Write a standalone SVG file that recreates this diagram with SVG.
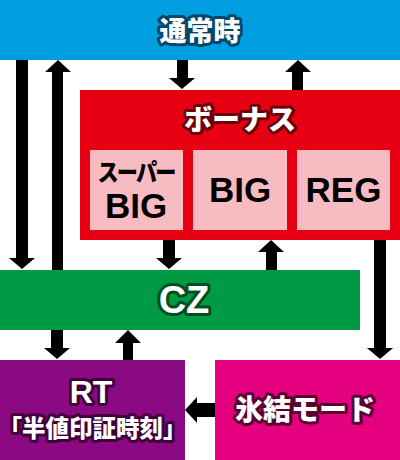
<svg xmlns="http://www.w3.org/2000/svg" width="400" height="460" viewBox="0 0 400 460">
<style>
.h{font-family:"Noto Sans CJK JP","Noto Sans",sans-serif;font-weight:900;fill:#fff;stroke-width:6;stroke-linejoin:round;paint-order:stroke;text-anchor:middle}
.l{font-family:"Liberation Sans","Noto Sans CJK JP",sans-serif;font-weight:bold;fill:#000;text-anchor:middle}
.j{font-family:"Noto Sans CJK JP",sans-serif;font-weight:900;fill:#000;text-anchor:middle}
.sub{fill:#f8bbc2}
.arr{fill:#000}
</style>
<g id="tsujo">
<rect x="0" y="0" width="400" height="60" fill="#009de0"/>
<text class="h" x="200" y="41" font-size="27" stroke="#00476b">通常時</text>
</g>
<g id="bonus">
<rect x="80" y="90" width="320" height="150" fill="#e60012"/>
<text class="h" x="240" y="130" font-size="28" stroke="#6b0008">ボーナス</text>
</g>
<g id="superbig">
<rect class="sub" x="90" y="150" width="93" height="80"/>
<text class="j" x="136" y="181" font-size="24" letter-spacing="-2" transform="translate(136 0) scale(0.88 1) translate(-136 0)">スーパー</text>
<text class="l" x="136" y="218" font-size="35">BIG</text>
</g>
<g id="big">
<rect class="sub" x="193" y="150" width="94" height="80"/>
<text class="l" x="240" y="202" font-size="35">BIG</text>
</g>
<g id="reg">
<rect class="sub" x="297" y="150" width="93" height="80"/>
<text class="l" x="343.5" y="202" font-size="35">REG</text>
</g>
<g id="cz">
<rect x="0" y="270" width="360" height="60" fill="#009944"/>
<text class="h" x="184" y="313" font-size="38" stroke="#004d22" style="font-family:'Liberation Sans',sans-serif;font-weight:bold">CZ</text>
</g>
<g id="rt">
<rect x="0" y="360" width="185" height="100" fill="#8b0a84"/>
<text class="h" x="91" y="403" font-size="32" stroke="#40003a" style="font-family:'Liberation Sans',sans-serif;font-weight:bold">RT</text>
<text class="h" x="92.5" y="437" font-size="23.5" stroke="#40003a" stroke-width="5">「半値印証時刻」</text>
</g>
<g id="hyoketsu">
<rect x="215" y="360" width="185" height="100" fill="#e4007f"/>
<text class="h" x="305" y="420" font-size="28" stroke="#5a0032">氷結モード</text>
</g>
<g id="connectors" class="arr">
<path d="M16 60H28V258H35L22 269L9 258H16Z"/>
<path d="M52 270H63V72H71L58 60L45 72H52Z"/>
<path d="M177 60H188V78H195L182 89L169 78H177Z"/>
<path d="M292 90H303V72H311L298 60L285 72H292Z"/>
<path d="M163 240H175V258H182L169 269L156 258H163Z"/>
<path d="M266 270H277V252H284L271 240L258 252H266Z"/>
<path d="M374 240H386V348H393L380 359L367 348H374Z"/>
<path d="M51 330H63V348H70L57 359L44 348H51Z"/>
<path d="M123 360H133V343H141L128 330L115 343H123Z"/>
<path d="M215 403V417H197V423L185 410L197 397V403Z"/>
</g>
</svg>
